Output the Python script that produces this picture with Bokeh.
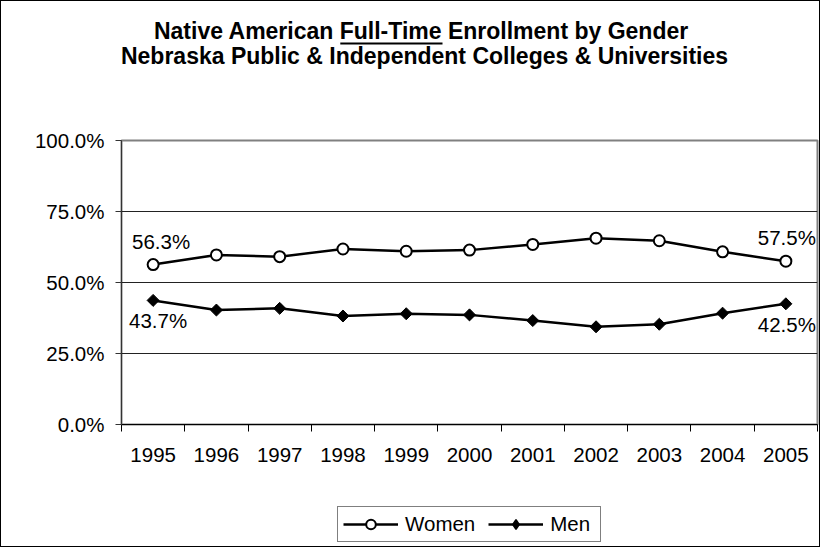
import math
from bokeh.plotting import figure
from bokeh.layouts import column
from bokeh.models import (ColumnDataSource, FixedTicker, PrintfTickFormatter, Legend,
                          LegendItem, LabelSet, Label, BoxAnnotation, Range1d)
from bokeh.embed import file_html
from bokeh.resources import INLINE
from bokeh.core.properties import value

# ---------------- data ----------------
years = [1995, 1996, 1997, 1998, 1999, 2000, 2001, 2002, 2003, 2004, 2005]
year_labels = ["1995", "1996", "1997", "1998", "1999", "2000", "2001", "2002", "2003", "2004", "2005"]
women = [56.3, 59.7, 59.1, 61.8, 61.0, 61.4, 63.4, 65.6, 64.7, 60.8, 57.5]
men = [43.7, 40.3, 40.9, 38.2, 39.0, 38.6, 36.6, 34.4, 35.3, 39.2, 42.5]
y_ticks = [0, 25, 50, 75, 100]
series_names = ["Women", "Men"]
title_line1 = "Native American Full-Time Enrollment by Gender"
title_line2 = "Nebraska Public & Independent Colleges & Universities"

FONT = "Liberation Sans"
FS = "20.5px"
W = 818
BL, BR = 120, 2          # left / right borders shared by the stacked figures
H_TOP, H_MAIN, H_LEG = 100, 373, 72

src = ColumnDataSource(dict(year=years, women=women, men=men))

# ---------------- title strip (coordinates = page pixels) ----------------
top = figure(width=W, height=H_TOP, output_backend="svg", toolbar_location=None, title=None,
             x_range=Range1d(1 + BL, 1 + W - BR), y_range=Range1d(1 + H_TOP, 1),
             x_axis_type=None, y_axis_type=None,
             min_border_left=BL, min_border_right=BR, min_border_top=0, min_border_bottom=0)
top.outline_line_color = None
top.grid.visible = False
top.background_fill_color = "white"
top.border_fill_color = "white"
top.add_layout(Label(x=421, y=30, text=title_line1, text_align="center",
                     text_baseline="alphabetic", text_font=FONT, text_font_size="23px",
                     text_font_style="bold", text_color="black"))
top.add_layout(Label(x=424, y=55, text=title_line2, text_align="center",
                     text_baseline="alphabetic", text_font=FONT, text_font_size="23px",
                     text_font_style="bold", text_color="black"))
top.add_layout(BoxAnnotation(left=339.8, right=442.0, top=42, bottom=44,
                             fill_color="black", fill_alpha=1, line_color=None))

# ---------------- main chart ----------------
p = figure(width=W, height=H_MAIN, output_backend="svg", toolbar_location=None, title=None,
           x_range=Range1d(years[0] - 0.5, years[-1] + 0.5),
           y_range=Range1d(y_ticks[0], y_ticks[-1]),
           min_border_left=BL, min_border_right=BR, min_border_top=39, min_border_bottom=50)
p.background_fill_color = "white"
p.border_fill_color = "white"
p.outline_line_color = "#808080"
p.outline_line_width = 2

p.xaxis.ticker = FixedTicker(ticks=years, minor_ticks=[y - 0.5 for y in years] + [years[-1] + 0.5])
p.xaxis.major_label_overrides = {y: l for y, l in zip(years, year_labels)}
p.xaxis.major_tick_line_color = None
p.xaxis.major_tick_out = 0
p.xaxis.major_tick_in = 0
p.xaxis.minor_tick_line_color = "black"
p.xaxis.minor_tick_out = 7
p.xaxis.minor_tick_in = 0
p.xaxis.axis_line_color = "black"
p.xaxis.major_label_standoff = 16
p.xaxis.major_label_text_font = FONT
p.xaxis.major_label_text_font_size = FS
p.xaxis.major_label_text_color = "black"

p.yaxis.ticker = FixedTicker(ticks=y_ticks)
p.yaxis.formatter = PrintfTickFormatter(format="%.1f%%")
p.yaxis.major_tick_out = 6
p.yaxis.major_tick_in = 0
p.yaxis.minor_tick_line_color = None
p.yaxis.axis_line_color = "#333333"
p.yaxis.major_tick_line_color = "#333333"
p.yaxis.major_label_standoff = 11
p.yaxis.major_label_text_font = FONT
p.yaxis.major_label_text_font_size = FS
p.yaxis.major_label_text_color = "black"

p.xgrid.visible = False
p.ygrid.ticker = FixedTicker(ticks=y_ticks[1:-1])
p.ygrid.grid_line_color = "#222222"
p.ygrid.grid_line_width = 1

LINE = dict(line_color="black", line_width=2.5)
WMARK = dict(marker="circle", size=11, fill_color="white", line_color="black", line_width=2)
MMARK = dict(marker="square", angle=math.pi / 4, size=8.5, fill_color="black",
             line_color="black", line_width=1)
MMARK_KEY = dict(marker="diamond", size=15, fill_color="black", line_color="black", line_width=1.5)

p.line("year", "women", source=src, **LINE)
p.scatter("year", "women", source=src, **WMARK)
p.line("year", "men", source=src, **LINE)
p.scatter("year", "men", source=src, **MMARK)

ends = [0, len(years) - 1]
wsrc = ColumnDataSource(dict(x=[years[i] for i in ends], y=[women[i] for i in ends],
                             t=["%.1f%%" % women[i] for i in ends], dx=[8, 1]))
msrc = ColumnDataSource(dict(x=[years[i] for i in ends], y=[men[i] for i in ends],
                             t=["%.1f%%" % men[i] for i in ends], dx=[5, 1]))
p.add_layout(LabelSet(x="x", y="y", text="t", source=wsrc, x_offset="dx", y_offset=16,
                      text_align="center", text_baseline="alphabetic",
                      text_font=value(FONT), text_font_size=FS, text_color="black"))
p.add_layout(LabelSet(x="x", y="y", text="t", source=msrc, x_offset="dx", y_offset=-28,
                      text_align="center", text_baseline="alphabetic",
                      text_font=value(FONT), text_font_size=FS, text_color="black"))

# ---------------- legend strip ----------------
leg = figure(width=W, height=H_LEG, output_backend="svg", toolbar_location=None, title=None,
             x_range=Range1d(0, 1), y_range=Range1d(0, 1),
             x_axis_type=None, y_axis_type=None,
             min_border_left=BL, min_border_right=BR, min_border_top=0, min_border_bottom=0)
leg.outline_line_color = None
leg.grid.visible = False
leg.background_fill_color = "white"
leg.border_fill_color = "white"
# same series styles (their data lie outside this strip's ranges; only the legend keys show)
l_w = leg.line("year", "women", source=src, **LINE)
s_w = leg.scatter("year", "women", source=src, **WMARK)
l_m = leg.line("year", "men", source=src, **LINE)
s_m = leg.scatter("year", "men", source=src, **MMARK_KEY)

legend = Legend(items=[LegendItem(label=series_names[0], renderers=[l_w, s_w]),
                       LegendItem(label=series_names[1], renderers=[l_m, s_m])],
                orientation="horizontal", location=(216, 4), margin=0,
                padding=5, spacing=13, glyph_width=55, glyph_height=24,
                label_standoff=7, label_width=45, label_height=20,
                label_text_font=FONT, label_text_font_size=FS, label_text_color="black",
                border_line_color="black", border_line_width=1,
                background_fill_color="white", background_fill_alpha=1)
leg.add_layout(legend, "center")

layout = column(top, p, leg, styles={"border": "1px solid black"})

open("out.html", "w").write(file_html(layout, INLINE))
